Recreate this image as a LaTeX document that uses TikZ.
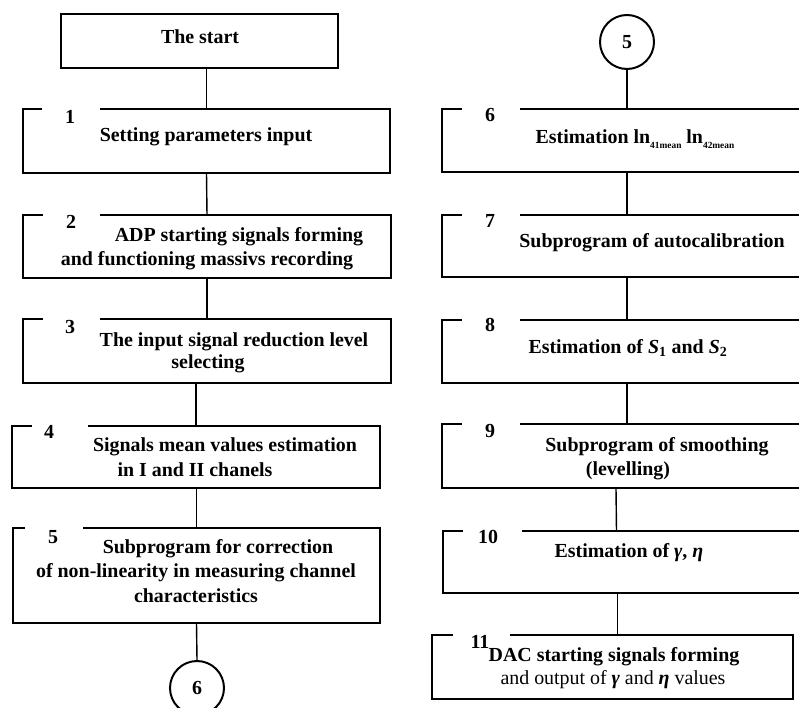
\documentclass[tikz,border=0pt]{standalone}
\usepackage{fontspec}
\setmainfont{Liberation Serif}
\usetikzlibrary{fit}

% box with a gap in its top edge for the step number
\newcommand{\gapbox}[7]{%
  \node[fit={(#2,#3) (#4,#5)}, inner sep=0pt] (#1) {};
  \draw[frame] (#1.north west) ++(#7,0) -- (#1.north east) -- (#1.south east)
    -- (#1.south west) -- (#1.north west) -- ++(#6,0);
}
\newcommand{\sub}[1]{\raisebox{-0.25em}{\fontsize{8}{8}\selectfont #1}}

\begin{document}
\begin{tikzpicture}[x=0.03cm, y=-0.03cm,
    frame/.style={line width=1.7pt},
    link/.style={line width=1.2pt},
    txt/.style={font=\fontsize{17}{20}\selectfont\bfseries, inner sep=0pt},
    num/.style={font=\fontsize{17}{20}\selectfont\bfseries, inner sep=0pt},
    conn/.style={circle, draw, line width=1.7pt, minimum size=1.62cm, inner sep=0pt,
      font=\fontsize{17}{20}\selectfont\bfseries}]
    \useasboundingbox (0,0) rectangle (799,708);
    \clip (0,0) rectangle (799,708);

    % left column
    \node[fit={(61,14) (338,68)}, inner sep=0pt, draw, frame] (start) {};
    \node[txt] (tstart) at (200,37) {The start};

    \gapbox{b1}{23}{109}{390}{173}{19}{77}
    \node[num] (n1) at (70,117) {1};
    \node[txt] (t1) at (206,137) {Setting parameters input};

    \gapbox{b2}{23}{215}{391}{278}{20}{77}
    \node[num] (n2) at (71,222) {2};
    \node[txt] (t2a) at (239,237) {ADP starting signals forming};
    \node[txt] (t2b) at (207,261) {and functioning massivs recording};

    \gapbox{b3}{23}{319}{391}{383}{20}{77}
    \node[num] (n3) at (70,327) {3};
    \node[txt] (t3a) at (234,342) {The input signal reduction level};
    \node[txt] (t3b) at (208,364) {selecting};

    \gapbox{b4}{12}{426}{380}{488}{20}{76}
    \node[num] (n4) at (49,432) {4};
    \node[txt] (t4a) at (225,447) {Signals mean values estimation};
    \node[txt] (t4b) at (195,470) {in I and II chanels};

    \gapbox{b5}{13}{528}{380}{623}{12}{70}
    \node[num] (n5) at (53,537) {5};
    \node[txt] (t5a) at (218,549) {Subprogram for correction};
    \node[txt] (t5b) at (196,573) {of non-linearity in measuring channel};
    \node[txt] (t5c) at (196,596) {characteristics};

    \node[conn] (c6) at (197,688) {6};

    % right column
    \node[conn] (c5) at (627,42) {5};

    \gapbox{b6}{442}{109}{812}{172}{20}{78}
    \node[num] (n6) at (490,115) {6};
    \node[txt] (t6) at (635,139) {Estimation ln\sub{41mean} ln\sub{42mean}};

    \gapbox{b7}{442}{215}{812}{277}{20}{78}
    \node[num] (n7) at (490,221) {7};
    \node[txt] (t7) at (652,243) {Subprogram of autocalibration};

    \gapbox{b8}{442}{320}{812}{383}{20}{78}
    \node[num] (n8) at (490,325) {8};
    \node[txt] (t8) at (628,348) {Estimation of \textit{S}\textsubscript{1} and \textit{S}\textsubscript{2}};

    \gapbox{b9}{442}{424}{812}{488}{20}{78}
    \node[num] (n9) at (490,431) {9};
    \node[txt] (t9a) at (657,447) {Subprogram of smoothing};
    \node[txt] (t9b) at (628,471) {(levelling)};

    \gapbox{b10}{443}{531}{812}{593}{20}{79}
    \node[num] (n10) at (488,537) {10};
    \node[txt] (t10) at (629,553) {Estimation of \textit{γ}, \textit{η}};

    \gapbox{b11}{432}{635}{793}{699}{21}{78}
    \node[num] (n11) at (480,642) {11};
    \node[txt] (t11a) at (614,657) {DAC starting signals forming};
    \node[txt] (t11b) at (613,680) {\mdseries and output of \textbf{\textit{γ}} and \textbf{\textit{η}} values};

    % connectors
    \draw[link] (start.south -| b1.north) -- (b1.north);
    \draw[link] (b1.south) -- (b2.north);
    \draw[link] (b2.south) -- (b3.north);
    \draw[link] (b3.south -| b4.north) -- (b4.north);
    \draw[link] (b4.south -| b5.north) -- (b5.north);
    \draw[link] (b5.south) -- (c6.north);

    \draw[link] (c5.south) -- (b6.north);
    \draw[link] (b6.south) -- (b7.north);
    \draw[link] (b7.south) -- (b8.north);
    \draw[link] (b8.south) -- (b9.north);
    \draw[link] ([xshift=-0.33cm]b9.south) -- ([xshift=-0.33cm]b10.north);
    \draw[link] ([xshift=-0.3cm]b10.south) -- ([xshift=-0.3cm]b10.south |- b11.north);
\end{tikzpicture}
\end{document}
